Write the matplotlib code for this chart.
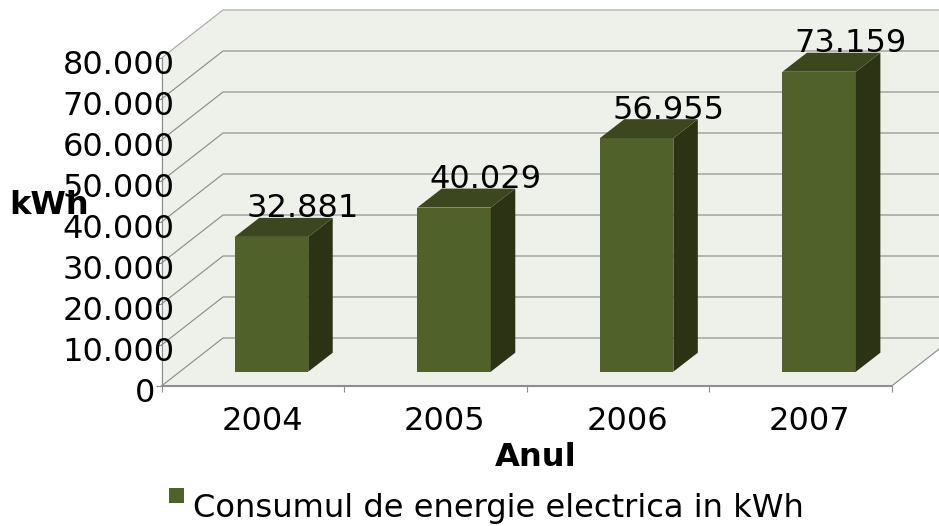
import numpy as np
import matplotlib
matplotlib.use('Agg')
import matplotlib.pyplot as plt
from matplotlib.patches import Polygon, Rectangle

# data
years = ['2004', '2005', '2006', '2007']
consum = [32881, 40029, 56955, 73159]
consum_labels = ['32.881', '40.029', '56.955', '73.159']
y_ticks = [0, 10000, 20000, 30000, 40000, 50000, 60000, 70000, 80000]
y_tick_labels = ['0', '10.000', '20.000', '30.000', '40.000', '50.000', '60.000', '70.000', '80.000']

W, H = 939, 526
LEFT, RIGHT, BOTTOM, TOP = 161.5, 891.7, 386, 58

fig = plt.figure(figsize=(W / 100, H / 100), dpi=100)
ax = fig.add_axes([LEFT / W, 1 - BOTTOM / H, (RIGHT - LEFT) / W, (BOTTOM - TOP) / H])
ax.patch.set_visible(False)
ax.set_xlim(-0.5, 3.5)
ax.set_ylim(0, 80000)

# one pixel in data units
px_x = 4 / (RIGHT - LEFT)
px_y = 80000 / (BOTTOM - TOP)

wall = '#eef1e9'
grid = '#8e8e8e'
front = '#50622a'
side = '#2c3315'
top = '#3c471f'
fs = 23.1

# depth of the box and of the bars
dx = 61.5 * px_x
dy = 48 * px_y
bar_dx = 24.5 * px_x
bar_dy = 19 * px_y
bar_w = 73.5 * px_x
bar_x = np.arange(len(years)) + 18.7 * px_x
bar_base = 14.3 * px_y

x0, x1 = -0.5, 3.5
y1 = 80000

# walls and floor
ax.add_patch(Polygon([(x0, 0), (x0 + dx, dy), (x0 + dx, y1 + dy), (x0, y1)], fc=wall, ec='none', clip_on=False, zorder=1))
ax.add_patch(Polygon([(x0 + dx, dy), (x1 + dx, dy), (x1 + dx, y1 + dy), (x0 + dx, y1 + dy)], fc=wall, ec='none', clip_on=False, zorder=1))
ax.add_patch(Polygon([(x0, 0), (x1, 0), (x1 + dx, dy), (x0 + dx, dy)], fc=wall, ec='none', clip_on=False, zorder=1))

# gridlines
for v in y_ticks:
    c = '#aaaaaa' if v == y1 else grid
    ax.plot([x0, x0 + dx, x1 + dx], [v, v + dy, v + dy], color=c, lw=0.85, clip_on=False, zorder=2)
ax.plot([x1, x1 + dx], [0, dy], color=grid, lw=0.85, clip_on=False, zorder=2)

# bars
ax.bar(bar_x, consum, width=bar_w, bottom=bar_base, color=front, clip_on=False, zorder=3)
for x, v in zip(bar_x, consum):
    xr = x + bar_w / 2
    xl = x - bar_w / 2
    yt = v + bar_base
    ax.add_patch(Polygon([(xr, bar_base), (xr + bar_dx, bar_base + bar_dy), (xr + bar_dx, yt + bar_dy), (xr, yt)],
                         fc=side, ec='none', clip_on=False, zorder=3))
    ax.add_patch(Polygon([(xl, yt), (xr, yt), (xr + bar_dx, yt + bar_dy), (xl + bar_dx, yt + bar_dy)],
                         fc=top, ec='none', clip_on=False, zorder=3))

# value labels
for x, v, s in zip(bar_x, consum, consum_labels):
    ax.annotate(s, (x, v + bar_base), xytext=(31.5, 28), textcoords='offset pixels',
                ha='center', va='center', fontsize=fs, color='black', zorder=5, annotation_clip=False)

# axes
for name in ['top', 'right']:
    ax.spines[name].set_visible(False)
for name in ['left', 'bottom']:
    ax.spines[name].set_color(grid)
    ax.spines[name].set_zorder(4)
ax.spines['left'].set_linewidth(0.85)
ax.spines['bottom'].set_linewidth(1.5)
ax.set_xticks(np.arange(-0.5, 4))
ax.set_yticks(y_ticks)
ax.tick_params(labelbottom=False, labelleft=False, length=4.5, width=0.8, color=grid)

for v, s in zip(y_ticks, y_tick_labels):
    # the 0 sits left of the axis, the others run over it
    right = -6 if v == 0 else 13
    ax.annotate(s, (x0, v), xytext=(right, -7.5), textcoords='offset pixels',
                ha='right', va='center', fontsize=fs, color='black', zorder=5, annotation_clip=False)

for i, s in enumerate(years):
    ax.annotate(s, (i, 0), xytext=(9.5, -35), textcoords='offset pixels',
                ha='center', va='center', fontsize=fs, color='black', zorder=5, annotation_clip=False)

# axis titles and legend
fig.text(49 / W, 1 - 206 / H, 'kWh', fontsize=fs, fontweight='bold', ha='center', va='center', zorder=6)
fig.text(536 / W, 1 - 458 / H, 'Anul', fontsize=fs, fontweight='bold', ha='center', va='center')
fig.add_artist(Rectangle((169 / W, 1 - 503 / H), 15 / W, 15 / H, transform=fig.transFigure, fc=front, ec='none'))
fig.text(193 / W, 1 - 509 / H, 'Consumul de energie electrica in kWh', fontsize=fs, ha='left', va='center')

fig.savefig('out.png', dpi=100)
